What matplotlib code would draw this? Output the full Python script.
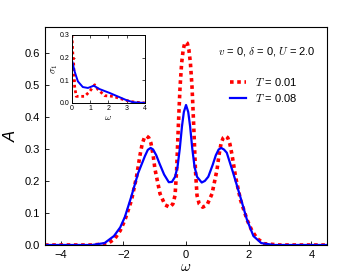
import numpy as np
import matplotlib
matplotlib.use("Agg")
import matplotlib.pyplot as plt

plt.rcParams['font.family'] = ['Liberation Sans', 'DejaVu Sans']
plt.rcParams['mathtext.fontset'] = 'cm'

# spectral function A(w)
w_lo = [-4.5, -3.0, -2.5, -2.27, -2.1, -1.95, -1.74, -1.58, -1.47, -1.40, -1.33, -1.26, -1.19,
        -1.12, -1.05, -0.99, -0.83, -0.67, -0.52, -0.42, -0.35, -0.3, -0.25, -0.22, -0.19,
        -0.14, -0.09, -0.04, 0.0, 0.04, 0.09, 0.14, 0.19, 0.22, 0.25, 0.3, 0.35, 0.42, 0.53,
        0.67, 0.83, 0.99, 1.05, 1.12, 1.19, 1.26, 1.33, 1.40, 1.47, 1.58, 1.74, 1.95, 2.1,
        2.27, 2.5, 3.0, 4.5]
A_lo = [0.0, 0.0, 0.004, 0.02, 0.045, 0.078, 0.14, 0.213, 0.28, 0.315, 0.335, 0.34, 0.335,
        0.318, 0.28, 0.236, 0.16, 0.125, 0.118, 0.128, 0.155, 0.234, 0.36, 0.43, 0.495,
        0.568, 0.61, 0.63, 0.633, 0.63, 0.61, 0.568, 0.495, 0.43, 0.36, 0.234, 0.155, 0.128, 0.118,
        0.125, 0.16, 0.236, 0.28, 0.318, 0.335, 0.34, 0.335, 0.315, 0.28, 0.213, 0.14, 0.078, 0.045,
        0.02, 0.004, 0.0, 0.0]

w_hi = [-4.5, -3.0, -2.6, -2.3, -2.1, -1.95, -1.75, -1.53, -1.31, -1.22, -1.13, -1.05, -0.95,
        -0.85, -0.7, -0.55, -0.45, -0.35, -0.27, -0.2, -0.13, -0.07, 0.0, 0.07, 0.13, 0.2,
        0.27, 0.35, 0.5, 0.6, 0.71, 0.85, 0.95, 1.04, 1.12, 1.21, 1.3, 1.5, 1.73, 1.94,
        2.15, 2.4, 2.8, 4.5]
A_hi = [0.0, 0.0, 0.006, 0.028, 0.055, 0.088, 0.15, 0.224, 0.278, 0.297, 0.303, 0.298, 0.28,
        0.255, 0.22, 0.196, 0.197, 0.213, 0.245, 0.30, 0.37, 0.415, 0.437, 0.415, 0.37, 0.30,
        0.245, 0.213, 0.195, 0.2, 0.213, 0.25, 0.28, 0.298, 0.303, 0.298, 0.288, 0.226, 0.151, 0.08,
        0.028, 0.006, 0.0, 0.0]

# inset: conductivity sigma_1(w)
ws_lo = [0.0, 0.05, 0.09, 0.15, 0.24, 0.42, 0.7, 0.97, 1.25, 1.43, 1.8, 2.26, 2.7, 3.17, 3.5, 4.0]
s_lo = [0.3, 0.22, 0.19, 0.073, 0.029, 0.029, 0.029, 0.05, 0.08, 0.059, 0.032, 0.029, 0.018, 0.007, 0.003, 0.0]
ws_hi = [0.0, 0.15, 0.33, 0.6, 0.88, 1.2, 1.52, 2.07, 2.62, 3.0, 3.36, 4.0]
s_hi = [0.19, 0.139, 0.095, 0.07, 0.066, 0.076, 0.061, 0.044, 0.025, 0.012, 0.003, 0.0]

fig = plt.figure(figsize=(3.63, 2.73), dpi=100)
ax = fig.add_axes([0.124, 0.1026, 0.777, 0.798])
ax.plot(w_lo, A_lo, color='red', ls=(0, (1, 1)), lw=2.6, label=r'$T$ = 0.01')
ax.plot(w_hi, A_hi, color='blue', lw=1.6, label=r'$T$ = 0.08')
ax.set_xlim(-4.5, 4.5)
ax.set_ylim(0, 0.68)
ax.set_xticks([-4, -2, 0, 2, 4])
ax.set_yticks([0.0, 0.1, 0.2, 0.3, 0.4, 0.5, 0.6])
ax.set_yticklabels(['0.0', '0.1', '0.2', '0.3', '0.4', '0.5', '0.6'])
ax.tick_params(direction='in', labelsize=8, length=3, width=0.6)
ax.set_xlabel(r'$\omega$', fontsize=11, labelpad=0)
ax.set_ylabel('A', fontsize=12, style='italic', labelpad=4)
for s in ax.spines.values():
    s.set_linewidth(0.8)
ax.text(0.96, 0.89, r'$v$ = 0, $\delta$ = 0, $U$ = 2.0', transform=ax.transAxes,
        ha='right', va='center', fontsize=8)
ax.legend(loc='upper right', bbox_to_anchor=(0.93, 0.82), frameon=False, fontsize=8,
          handlelength=1.4, handletextpad=0.8, labelspacing=0.3)

ins = fig.add_axes([0.198, 0.623, 0.201, 0.249])
ins.plot(ws_lo, s_lo, color='red', ls=(0, (1, 1)), lw=2.0)
ins.plot(ws_hi, s_hi, color='blue', lw=1.4)
ins.set_xlim(0, 4)
ins.set_ylim(0, 0.3)
ins.set_xticks([0, 1, 2, 3, 4])
ins.set_yticks([0.0, 0.1, 0.2, 0.3])
ins.set_yticklabels(['0.0', '0.1', '0.2', '0.3'])
ins.tick_params(direction='in', labelsize=5, length=2, width=0.5, pad=1.5,
                top=True, right=True)
ins.set_xlabel(r'$\omega$', fontsize=7, labelpad=0)
ins.set_ylabel(r'$\sigma_1$', fontsize=7, labelpad=0)
for s in ins.spines.values():
    s.set_linewidth(0.7)

fig.savefig('out.png', dpi=100)
